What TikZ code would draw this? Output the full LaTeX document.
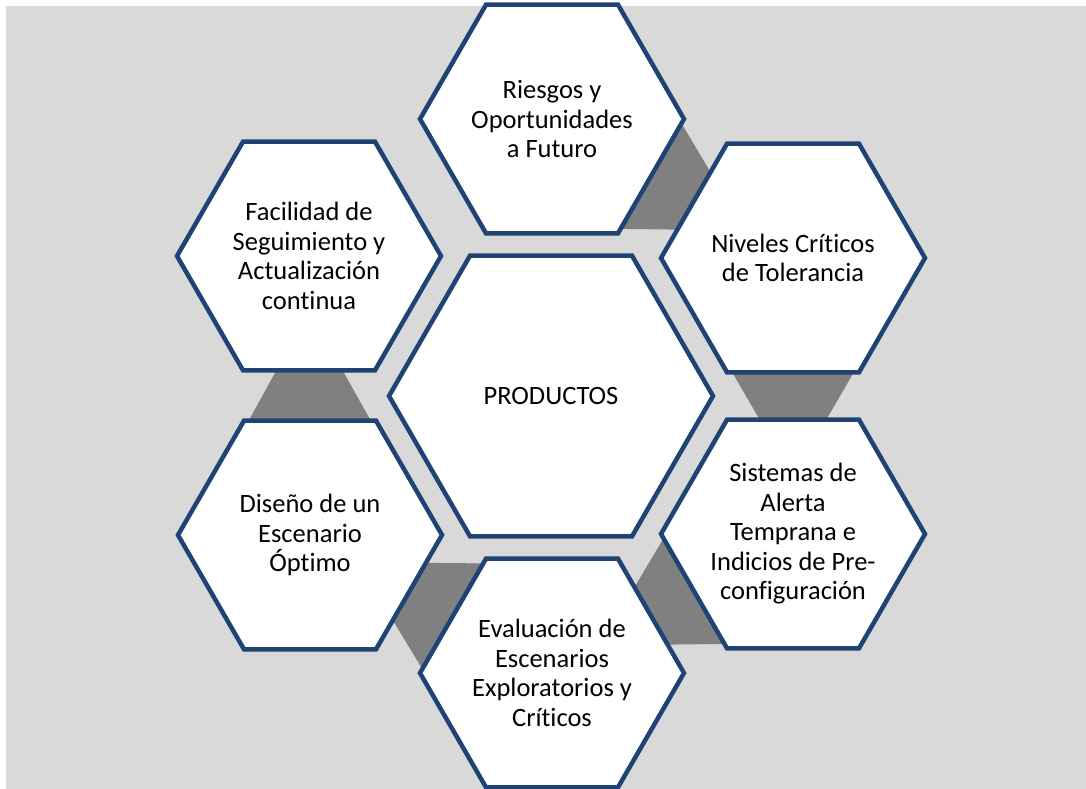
\documentclass[tikz,border=0pt]{standalone}
\usepackage{fontspec}
\setmainfont{Carlito}[Ligatures=NoCommon]
\usetikzlibrary{shapes.geometric,calc,backgrounds}
\definecolor{fondo}{RGB}{217,217,217}
\definecolor{enlace}{RGB}{128,128,128}
\definecolor{borde}{RGB}{31,67,116}

\begin{document}
\begin{tikzpicture}[x=1pt,y=-1pt,
    hexa/.style={regular polygon,regular polygon sides=6,draw=borde,line width=4.5pt,
        fill=white,inner sep=0pt,minimum size=264pt},
    hexc/.style={hexa,minimum size=324pt},
    texto/.style={align=center,inner sep=0pt,font=\fontsize{26.5}{29.5}\selectfont}]
\useasboundingbox (0,0) rectangle (1086,789);
% Centro
\node[hexc] (prod) at (551,396) {};
\node[texto] (tprod) at (prod) {PRODUCTOS};
% Hexagonos alrededor
\foreach \n/\x/\y/\txt in {ries/552/119/{Riesgos y\\Oportunidades\\a Futuro},
        niv/793/258/{Niveles Críticos\\de Tolerancia},
        sist/793/534/{Sistemas de\\Alerta\\Temprana e\\Indicios de Pre-\\configuración},
        eval/552/673/{Evaluación de\\Escenarios\\Exploratorios y\\Críticos},
        dis/310/535/{Diseño de un\\Escenario\\Óptimo},
        fac/309/256/{Facilidad de\\Seguimiento y\\Actualización\\continua}}
{
    \node[hexa] (\n) at (\x,\y) {};
    \node[texto] (t\n) at (\n) {\txt};
}
% Fondo y enlaces
\begin{scope}[on background layer]
\fill[fondo] (6,6) rectangle (1086,789);
\foreach \a/\b in {ries/niv,niv/sist,sist/eval,eval/dis,dis/fac}
    \fill[enlace] ($(\a)!108pt!(\b)!64.5pt!90:(\b)$) -- ($(\b)!108pt!(\a)!29.6pt!-90:(\a)$)
        -- ($(\b)!108pt!(\a)!29.6pt!90:(\a)$) -- ($(\a)!108pt!(\b)!64.5pt!-90:(\b)$) -- cycle;
\end{scope}
\end{tikzpicture}
\end{document}
